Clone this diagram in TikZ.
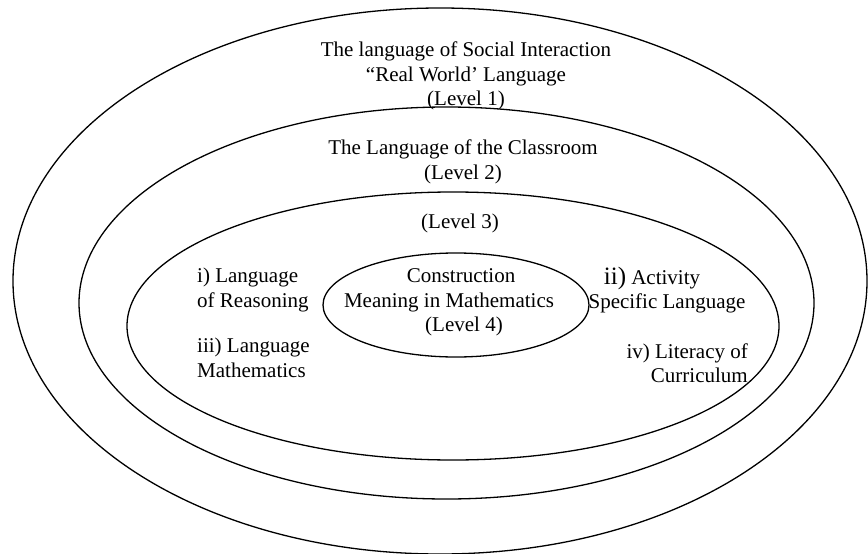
\documentclass[tikz,border=0pt]{standalone}
\usepackage{fontspec}
\setmainfont{Liberation Serif}
\usepackage{tikz}
\usetikzlibrary{positioning}

\begin{document}
\begin{tikzpicture}[x=1pt, y=-1pt]
	\tikzstyle{every node} = [align=center, inner sep=0pt, font=\fontsize{21}{24.5}\selectfont]
	\tikzstyle{ring} = [draw=black, line width=1.3pt]
	\useasboundingbox (0,0) rectangle (868,554);

	%The four nested levels
	\draw[ring] (440,281) ellipse (427pt and 273pt);
	\draw[ring] (446.5,303) ellipse (367.5pt and 196pt);
	\draw[ring] (453,326) ellipse (326pt and 134pt);
	\draw[ring] (456,305) ellipse (133pt and 52pt);

	\node (level_one) at (466,76) {The language of Social Interaction\\``Real World' Language\\(Level 1)};
	\node (level_two) at (463,162) {The Language of the Classroom\\(Level 2)};
	\node (level_three) at (460,223) {(Level 3)};
	\node (level_four) at (449,302.5) {\hspace*{24pt}Construction\\Meaning in Mathematics\\\hspace*{30pt}(Level 4)};

	%Level 3 sub-parts
	\node[anchor=west, align=left] (reasoning) at (197,290) {i) Language\\of Reasoning};
	\node[anchor=west, align=left] (lang_math) at (197,358) {iii) Language\\Mathematics};
	\node (activity) at (667,290) {{\fontsize{25}{25}\selectfont ii)} Activity\hspace*{30pt}\\Specific Language};
	\node[anchor=east, align=right] (curriculum) at (748,363) {iv) Literacy of\\Curriculum};
\end{tikzpicture}
\end{document}
